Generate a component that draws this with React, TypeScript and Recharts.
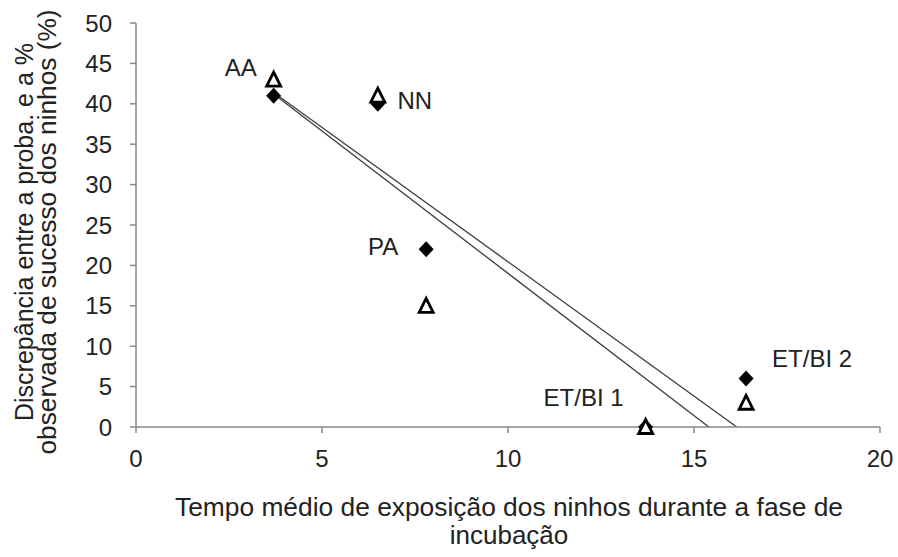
import React from "react"
import { ScatterChart, Scatter, XAxis, YAxis, ReferenceLine, Label } from "recharts"

// Exposure time (x) and discrepancy (y) per nesting area
const sites = ["AA", "NN", "PA", "ET/BI 1", "ET/BI 2"]
const exposureTime = [3.7, 6.5, 7.8, 13.7, 16.4]
const discrepancyFilled = [41, 40, 22, 0, 6]
const discrepancyOpen = [43, 41, 15, 0, 3]

// Fitted trend lines, start and end points
const trendFilled = [
  { x: 3.7, y: 41.4 },
  { x: 16.15, y: 0 },
]
const trendOpen = [
  { x: 3.7, y: 41.2 },
  { x: 15.4, y: 0 },
]

const xTicks = [0, 5, 10, 15, 20]
const yTicks = [0, 5, 10, 15, 20, 25, 30, 35, 40, 45, 50]

// where each area name sits relative to its filled marker
const labelOffset: Record<string, [number, number]> = {
  "AA": [-33, -28],
  "NN": [37, -3],
  "PA": [-43, -3],
  "ET/BI 1": [-62, -30],
  "ET/BI 2": [66, -20],
}

const filledPoints = sites.map((site, i) => ({ site, x: exposureTime[i], y: discrepancyFilled[i] }))
const openPoints = sites.map((site, i) => ({ site, x: exposureTime[i], y: discrepancyOpen[i] }))

const AXIS = "#888888"
const TEXT = "#222222"

function Diamond(props: any) {
  const { cx, cy, payload } = props
  const off = labelOffset[payload.site] ?? [0, 0]
  return (
    <g>
      <polygon
        points={`${cx},${cy - 8} ${cx + 7.5},${cy} ${cx},${cy + 8} ${cx - 7.5},${cy}`}
        fill="#000"
      />
      <text
        x={cx + off[0]}
        y={cy + off[1]}
        textAnchor="middle"
        dominantBaseline="central"
        fontSize={24}
        fill={TEXT}
      >
        {payload.site}
      </text>
    </g>
  )
}

function Triangle(props: any) {
  const { cx, cy } = props
  return (
    <polygon
      points={`${cx},${cy - 7.5} ${cx + 7},${cy + 6.5} ${cx - 7},${cy + 6.5}`}
      fill="#fff"
      stroke="#000"
      strokeWidth={2.8}
    />
  )
}

function XTitle(props: any) {
  const { x, y, width } = props.viewBox
  const cx = x + width / 2 + 1
  return (
    <text textAnchor="middle" fontSize={26} fill={TEXT}>
      <tspan x={cx} y={y + 89} textLength={668} lengthAdjust="spacingAndGlyphs">
        Tempo médio de exposição dos ninhos durante a fase de
      </tspan>
      <tspan x={cx} y={y + 117}>incubação</tspan>
    </text>
  )
}

function YTitle() {
  const cy = 232
  return (
    <g>
      <text
        x={33}
        y={cy}
        transform={`rotate(-90, 33, ${cy})`}
        textAnchor="middle"
        fontSize={25}
        fill={TEXT}
        textLength={378}
        lengthAdjust="spacingAndGlyphs"
      >
        Discrepância entre a proba. e a %
      </text>
      <text
        x={56}
        y={cy}
        transform={`rotate(-90, 56, ${cy})`}
        textAnchor="middle"
        fontSize={25}
        fill={TEXT}
        textLength={445}
        lengthAdjust="spacingAndGlyphs"
      >
        observada de sucesso dos ninhos (%)
      </text>
    </g>
  )
}

export default function App() {
  return (
    <div
      style={{
        position: "absolute",
        left: 0,
        top: 0,
        width: 898,
        height: 557,
        background: "#fff",
        fontFamily: "'Liberation Sans', Arial, sans-serif",
      }}
    >
      <ScatterChart width={898} height={557} margin={{ top: 23, right: 18, bottom: 0, left: 0 }}>
        <XAxis
          type="number"
          dataKey="x"
          domain={[0, 20]}
          ticks={xTicks}
          height={130}
          tickSize={6}
          tickMargin={17}
          axisLine={{ stroke: AXIS, strokeWidth: 1.5 }}
          tickLine={{ stroke: AXIS, strokeWidth: 1.5 }}
          tick={{ fill: TEXT, fontSize: 24 }}
        >
          <Label content={<XTitle />} />
        </XAxis>
        <YAxis
          type="number"
          dataKey="y"
          domain={[0, 50]}
          ticks={yTicks}
          width={136}
          tickSize={6}
          tickMargin={18}
          axisLine={{ stroke: AXIS, strokeWidth: 1.5 }}
          tickLine={{ stroke: AXIS, strokeWidth: 1.5 }}
          tick={{ fill: TEXT, fontSize: 24 }}
        >
          <Label content={<YTitle />} />
        </YAxis>
        <ReferenceLine segment={trendFilled} stroke="#3c3c3c" strokeWidth={1.3} ifOverflow="visible" />
        <ReferenceLine segment={trendOpen} stroke="#3c3c3c" strokeWidth={1.3} ifOverflow="visible" />
        <Scatter data={filledPoints} shape={<Diamond />} isAnimationActive={false} />
        <Scatter data={openPoints} shape={<Triangle />} isAnimationActive={false} />
      </ScatterChart>
    </div>
  )
}
